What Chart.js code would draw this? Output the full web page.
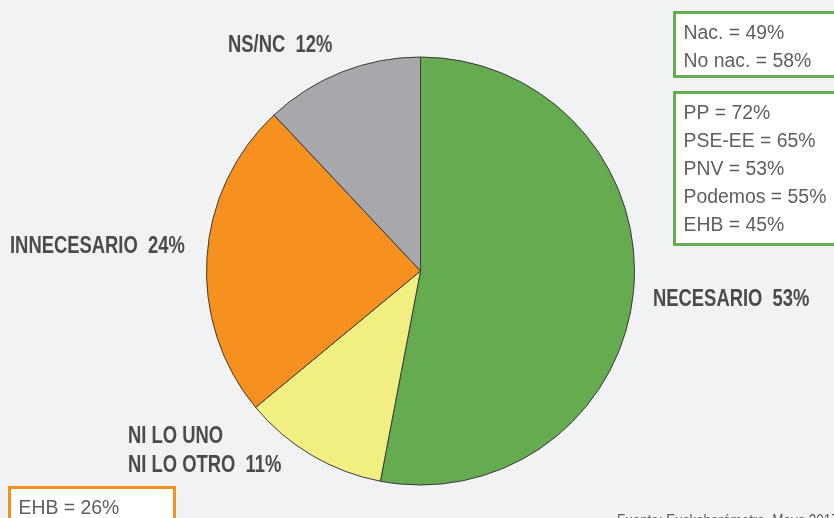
<!DOCTYPE html>
<html>
<head>
<meta charset="utf-8">
<script src="https://cdn.jsdelivr.net/npm/chart.js@4"></script>
<style>
    html, body { margin: 0; padding: 0; background: #f1f2f4; }
    #wrap { width: 834px; height: 518px; position: relative; overflow: hidden; }
</style>
</head>
<body>
<div id="wrap"><canvas id="pieChart" width="834" height="518"></canvas></div>
<script>
// Chart data
const categories = ['NECESARIO', 'NI LO UNO NI LO OTRO', 'INNECESARIO', 'NS/NC'];
const shares = [53, 11, 24, 12];
const sliceColors = ['#65ab4f', '#f1ee82', '#f6901e', '#a7a8ab'];

// Side boxes
const originBox = ['Nac. = 49%', 'No nac. = 58%'];
const partyBox = ['PP = 72%', 'PSE-EE = 65%', 'PNV = 53%', 'Podemos = 55%', 'EHB = 45%'];
const minorityBox = ['EHB = 26%'];
const sourceNote = 'Fuente: Euskobarómetro. Mayo 2017';

const FONT = '"Liberation Sans", Arial, sans-serif';

// Where each slice label goes (lines split by hand)
const labelSpots = [
    { lines: ['NECESARIO  ' + shares[0] + '%'], x: 653, y: 300 },
    { lines: ['NI LO UNO', 'NI LO OTRO  ' + shares[1] + '%'], x: 128, y: 437 },
    { lines: ['INNECESARIO  ' + shares[2] + '%'], x: 10, y: 247 },
    { lines: ['NS/NC  ' + shares[3] + '%'], x: 228, y: 46 }
];

// Draw text squeezed horizontally to imitate the condensed face
function narrowText(ctx, text, x, y, squeeze) {
    ctx.save();
    ctx.translate(x, y);
    ctx.scale(squeeze, 1);
    ctx.fillText(text, 0, 0);
    ctx.restore();
}

function drawBox(ctx, x, y, w, h, color, lines) {
    ctx.save();
    ctx.fillStyle = '#ffffff';
    ctx.fillRect(x, y, w, h);
    ctx.strokeStyle = color;
    ctx.lineWidth = 3;
    ctx.strokeRect(x, y, w, h);
    ctx.fillStyle = '#5d5e60';
    ctx.font = '20px ' + FONT;
    ctx.textBaseline = 'middle';
    lines.forEach((line, i) => {
        narrowText(ctx, line, x + 9, y + 21 + i * 28, 0.97);
    });
    ctx.restore();
}

const annotations = {
    id: 'annotations',
    afterDraw(chart) {
        const ctx = chart.ctx;
        ctx.save();
        ctx.fillStyle = '#4b4b4d';
        ctx.font = 'bold 23px ' + FONT;
        ctx.textBaseline = 'middle';
        labelSpots.forEach(spot => {
            spot.lines.forEach((line, i) => narrowText(ctx, line, spot.x, spot.y + i * 29, 0.8));
        });

        ctx.fillStyle = '#5d5e60';
        ctx.font = '17px ' + FONT;
        ctx.textBaseline = 'alphabetic';
        narrowText(ctx, sourceNote, 617, 526, 0.79);
        ctx.restore();

        drawBox(ctx, 674.5, 12.5, 170, 64, '#65ab4f', originBox);
        drawBox(ctx, 674.5, 92.5, 170, 152, '#65ab4f', partyBox);
        drawBox(ctx, 9.5, 487.5, 165, 60, '#f6901e', minorityBox);
    }
};

new Chart(document.getElementById('pieChart'), {
    type: 'pie',
    data: {
        labels: categories,
        datasets: [{
            data: shares,
            backgroundColor: sliceColors,
            borderColor: '#3a3a3a',
            borderWidth: 1
        }]
    },
    options: {
        responsive: false,
        animation: false,
        layout: { padding: { left: 206, right: 199, top: 56, bottom: 32 } },
        plugins: {
            legend: { display: false },
            tooltip: { enabled: false }
        }
    },
    plugins: [annotations]
});
</script>
</body>
</html>
